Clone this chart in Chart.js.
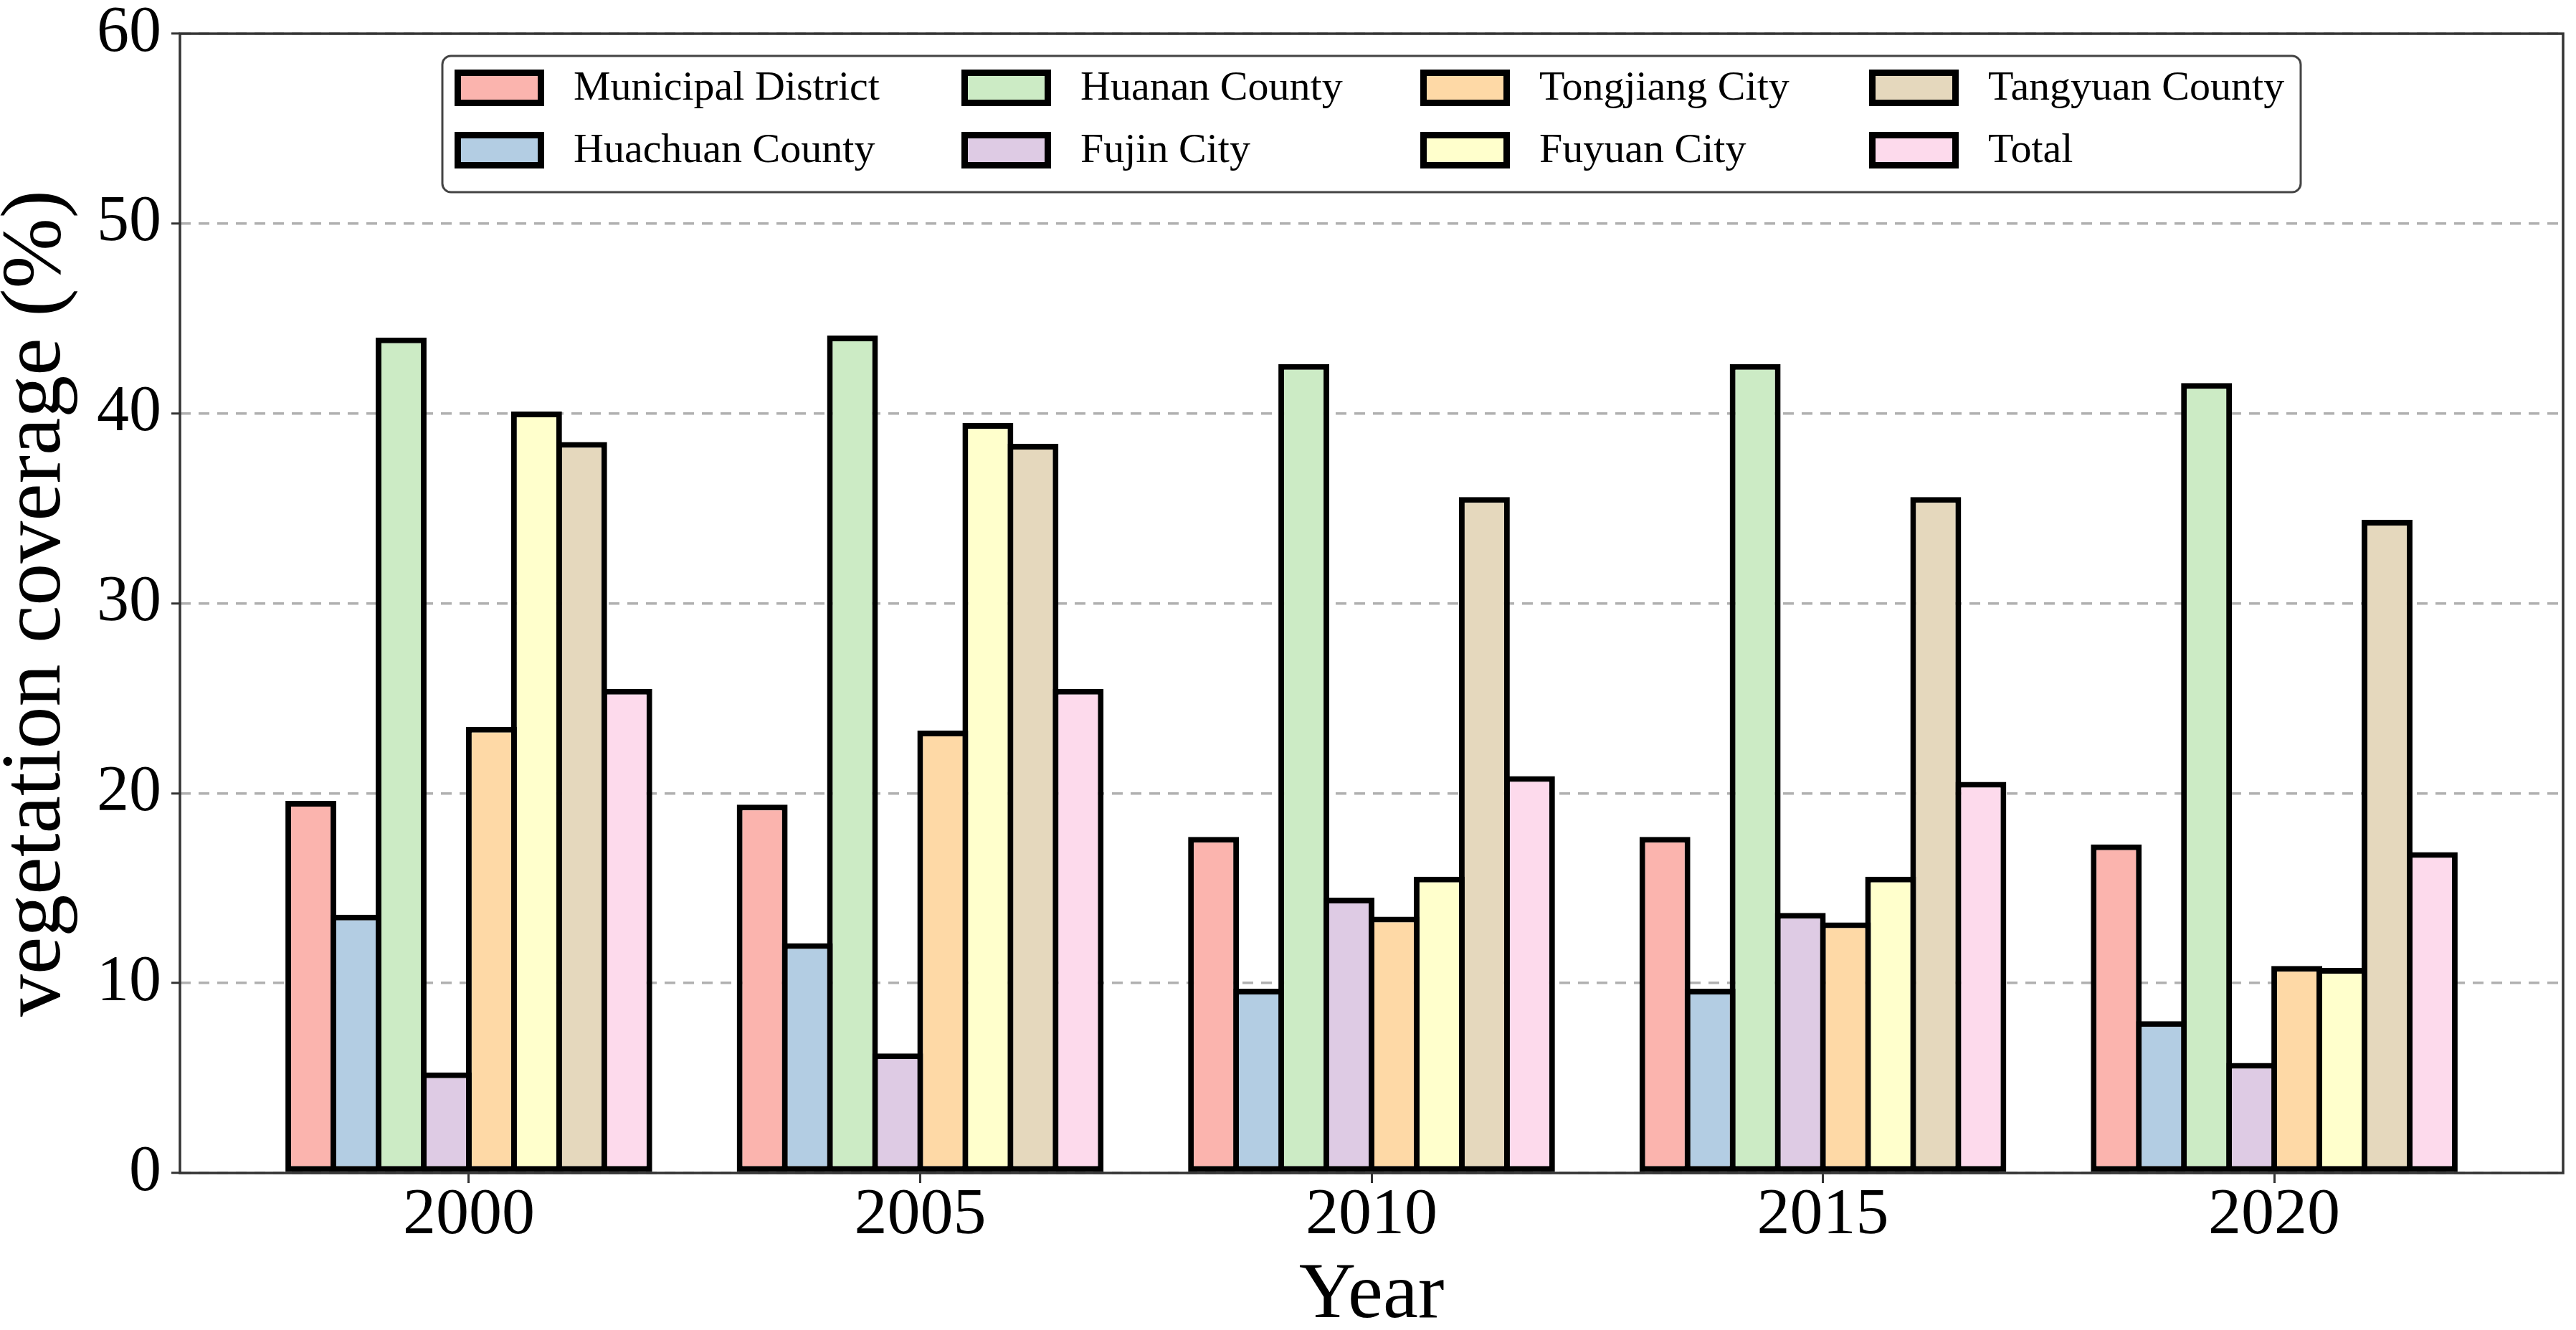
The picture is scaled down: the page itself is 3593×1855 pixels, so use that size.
<!DOCTYPE html>
<html>
<head>
<meta charset="utf-8">
<script src="https://cdn.jsdelivr.net/npm/chart.js@4.4.1/dist/chart.umd.min.js"></script>
<style>
  html, body { margin: 0; padding: 0; background: #fff; }
  canvas { display: block; }
</style>
</head>
<body>
<canvas id="chart" width="3593" height="1855" style="width:3593px;height:1855px"></canvas>
<script>
const years = [2000, 2005, 2010, 2015, 2020];

const municipal = [19.6, 19.4, 17.7, 17.7, 17.3];
const huachuan = [13.6, 12.1, 9.7, 9.7, 8.0];
const huanan = [44.0, 44.1, 42.6, 42.6, 41.6];
const fujin = [5.3, 6.3, 14.5, 13.7, 5.8];
const tongjiang = [23.5, 23.3, 13.5, 13.2, 10.9];
const fuyuan = [40.1, 39.5, 15.6, 15.6, 10.8];
const tangyuan = [38.5, 38.4, 35.6, 35.6, 34.4];
const total = [25.5, 25.5, 20.9, 20.6, 16.9];

const yTicks = [0, 10, 20, 30, 40, 50, 60];

const serif = '"Liberation Serif", "Times New Roman", serif';
Chart.defaults.font.family = serif;
Chart.defaults.color = '#000';

function series(label, values, color) {
    return {
        label: label,
        data: values.map((v, i) => ({ x: years[i], y: v })),
        backgroundColor: color,
        borderColor: '#000',
        borderWidth: 8,
        borderSkipped: false,
        categoryPercentage: 0.8,
        barPercentage: 1.127   // bars overlap by one border width, like centred edges
    };
}

const datasets = [
    series('Municipal District', municipal, '#fbb4ae'),
    series('Huachuan County', huachuan, '#b3cde3'),
    series('Huanan County', huanan, '#ccebc5'),
    series('Fujin City', fujin, '#decbe4'),
    series('Tongjiang City', tongjiang, '#fed9a6'),
    series('Fuyuan City', fuyuan, '#ffffcc'),
    series('Tangyuan County', tangyuan, '#e5d8bd'),
    series('Total', total, '#fddaec')
];

// axes frame (all four spines)
const frame = {
    id: 'frame',
    afterDatasetsDraw(chart) {
        const { ctx, chartArea: a } = chart;
        ctx.save();
        ctx.strokeStyle = '#333';
        ctx.lineWidth = 3.5;
        ctx.strokeRect(a.left, a.top, a.right - a.left, a.bottom - a.top);
        ctx.restore();
    }
};

// matplotlib style legend: 4 columns, filled column by column
const legendBox = {
    id: 'legendBox',
    afterDatasetsDraw(chart) {
        const { ctx, chartArea: a } = chart;
        const ds = chart.data.datasets;
        const nrow = 2;
        const colX = [17, 724, 1364, 1990];
        const boxW = 2592, boxH = 190;
        const patchW = 125, patchH = 51, textOff = 166;
        const left = (a.left + a.right) / 2 - boxW / 2;
        const top = a.top + 31;
        ctx.save();

        ctx.beginPath();
        ctx.roundRect(left, top, boxW, boxH, 12);
        ctx.fillStyle = '#fff';
        ctx.fill();
        ctx.lineWidth = 3;
        ctx.strokeStyle = '#444';
        ctx.stroke();

        ctx.font = '58px ' + serif;
        ctx.textBaseline = 'middle';
        ctx.textAlign = 'left';
        ds.forEach((d, i) => {
            const x = left + colX[Math.floor(i / nrow)];
            const y = top + 44.5 + (i % nrow) * 87;
            ctx.fillStyle = d.backgroundColor;
            ctx.fillRect(x, y - patchH / 2, patchW, patchH);
            ctx.lineWidth = 9;
            ctx.strokeStyle = '#000';
            ctx.strokeRect(x + 4.5, y - patchH / 2 + 4.5, patchW - 9, patchH - 9);
            ctx.fillStyle = '#000';
            ctx.fillText(d.label, x + textOff, y + 1);
        });
        ctx.restore();
    }
};

const ctx = document.getElementById('chart').getContext('2d');
new Chart(ctx, {
    type: 'bar',
    data: { datasets: datasets },
    options: {
        responsive: false,
        animation: false,
        devicePixelRatio: 1,
        layout: { padding: { top: 47, right: 18, left: 0, bottom: 0 } },
        plugins: {
            legend: { display: false },
            tooltip: { enabled: false }
        },
        scales: {
            x: {
                type: 'linear',
                offset: false,
                min: years[0] - 3.2,
                max: years[years.length - 1] + 3.2,
                afterBuildTicks: (scale) => { scale.ticks = years.map(v => ({ value: v })); },
                afterFit: (scale) => { scale.height = 219; },
                grid: {
                    display: true,
                    offset: false,
                    drawOnChartArea: false,
                    drawTicks: true,
                    tickLength: 14,
                    tickColor: '#333',
                    tickWidth: 3
                },
                border: { display: false },
                ticks: {
                    autoSkip: false,
                    maxRotation: 0,
                    padding: 0,
                    font: { size: 92, lineHeight: 1 },
                    callback: (v) => String(v)
                },
                title: {
                    display: true,
                    text: 'Year',
                    font: { size: 110, lineHeight: 0.8 },
                    padding: { top: 0, bottom: 3 }
                }
            },
            y: {
                min: 0,
                max: 60,
                afterBuildTicks: (scale) => { scale.ticks = yTicks.map(v => ({ value: v })); },
                afterFit: (scale) => { scale.width = 251; },
                grid: {
                    color: '#b0b0b0',
                    lineWidth: 3.5,
                    drawTicks: true,
                    tickLength: 12,
                    tickColor: '#333',
                    tickWidth: 3,
                    tickBorderDash: []
                },
                border: { display: false, dash: [15, 11] },
                ticks: {
                    padding: 14,
                    font: { size: 90, lineHeight: 0.6 }
                },
                title: {
                    display: true,
                    text: 'vegetation coverage (%)',
                    font: { size: 118, lineHeight: 0.8 },
                    padding: { top: 5, bottom: 0 }
                }
            }
        }
    },
    plugins: [frame, legendBox]
});
</script>
</body>
</html>
